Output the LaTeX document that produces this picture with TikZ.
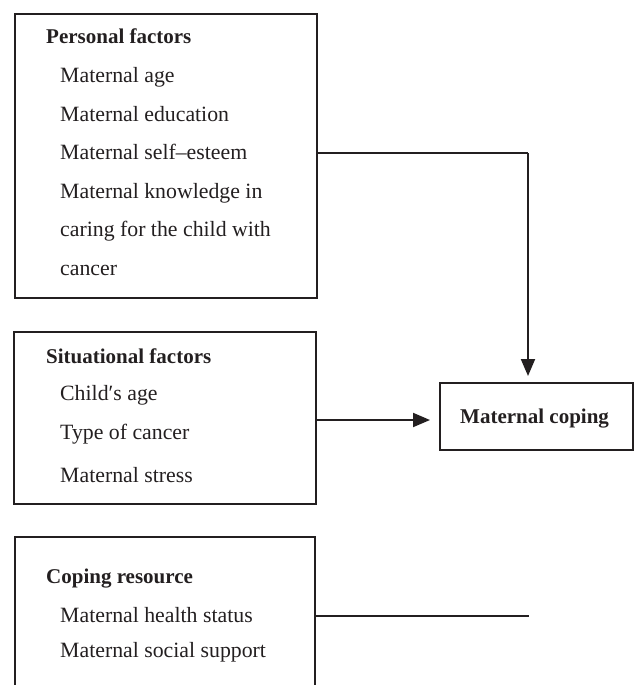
\documentclass[tikz,border=0pt]{standalone}
\usepackage{fontspec}
\setmainfont{Liberation Serif}
\usetikzlibrary{arrows.meta}
\definecolor{ink}{RGB}{35,31,32}
\begin{document}
\begin{tikzpicture}[x=1pt,y=-1pt,
  boxline/.style={draw=ink,line width=2.2pt},
  head/.style={anchor=base west,inner sep=0pt,font=\fontsize{21}{25}\selectfont\bfseries,text=ink},
  item/.style={anchor=base west,inner sep=0pt,font=\fontsize{21.8}{26}\selectfont,text=ink},
  thinline/.style={draw=ink,line width=1.3pt},
  arr/.style={draw=ink,line width=2pt,-{Triangle[length=17pt,width=14pt]}}]
\useasboundingbox (0,0) rectangle (635,685);
\clip (0,0) rectangle (635,685);
% boxes
\draw[boxline] (15,14) rectangle (317,298);
\draw[boxline] (14,332) rectangle (316,504);
\draw[boxline] (15,537) rectangle (315,700);
\draw[boxline] (440,383) rectangle (633,450);
\coordinate (b1r) at (317,153);
\coordinate (b2r) at (316,420);
\coordinate (b3r) at (315,616);
\coordinate (corner) at (528,153);
\coordinate (mctop) at (528,383);
\coordinate (mcleft) at (440,420);
\coordinate (free) at (529,616);
% texts box 1
\node[head] (h1) at (46,44) {Personal factors};
\node[item] (i1) at (60,82.5) {Maternal age};
\node[item] (i2) at (60,121) {Maternal education};
\node[item] (i3) at (60,159.5) {Maternal self–esteem};
\node[item] (i4) at (60,198) {Maternal knowledge in};
\node[item] (i5) at (60,236.5) {caring for the child with};
\node[item] (i6) at (60,275) {cancer};
% box 2
\node[head] (h2) at (46,363) {Situational factors};
\node[item] (j1) at (60,400) {Child′s age};
\node[item] (j2) at (60,439) {Type of cancer};
\node[item] (j3) at (60,482) {Maternal stress};
% box 3
\node[head] (h3) at (46,583) {Coping resource};
\node[item] (k1) at (60,622) {Maternal health status};
\node[item] (k2) at (60,657) {Maternal social support};
% maternal coping
\node[head] (mc) at (460,423) {Maternal coping};
% connectors
\draw[thinline] (b1r) -- (corner);
\draw[arr,shorten >=7pt] (corner) -- (mctop);
\draw[arr,shorten >=10pt] (b2r) -- (mcleft);
\draw[thinline] (b3r) -- (free);
\end{tikzpicture}
\end{document}
